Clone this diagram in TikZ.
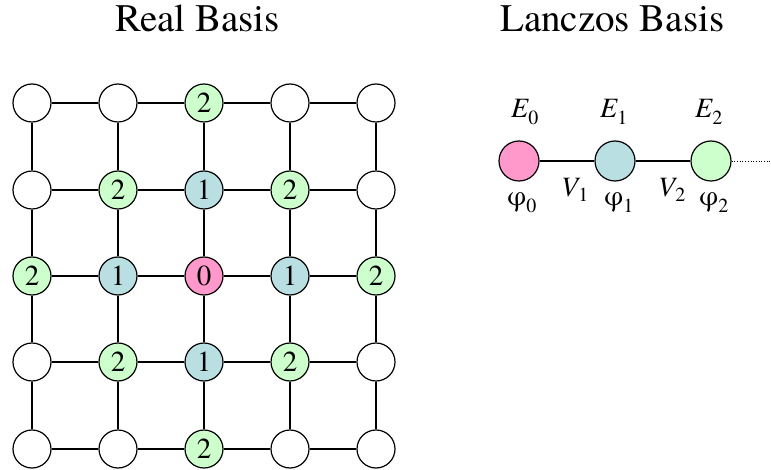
\documentclass[tikz,border=0pt]{standalone}
\usepackage{fontspec}
\setmainfont{TeX Gyre Termes}
\definecolor{pinkc}{HTML}{FF99CC}
\definecolor{bluec}{HTML}{B9DFE2}
\definecolor{greenc}{HTML}{CCFFCC}
\newcommand{\sbs}[1]{\raisebox{-7pt}{\fontsize{20}{20}\selectfont #1}}
\begin{document}
\begin{tikzpicture}[x=1pt,y=-1pt,
  site/.style={circle,draw,line width=1.2pt,minimum size=38pt,inner sep=0pt,fill=white,font=\fontsize{29}{29}\selectfont},
  lsite/.style={circle,draw,line width=1.2pt,minimum size=40pt,inner sep=0pt},
  bond/.style={line width=1.2pt},
  title/.style={font=\fontsize{39}{39}\selectfont,anchor=base west,inner sep=0pt},
  lab/.style={font=\fontsize{28}{28}\selectfont,inner sep=0pt,anchor=base west}]
\useasboundingbox (0,0) rectangle (771,470);
\node[title] (t1) at (115,32) {Real Basis};
\node[title] (t2) at (500,32) {Lanczos Basis};
% grid
\foreach \i in {0,...,4} {
  \foreach \j/\y in {0/103,1/190,2/276,3/362,4/449} {
    \pgfmathtruncatemacro{\dd}{abs(\i-2)+abs(\j-2)}
    \ifnum\dd=0
      \node[site,fill=pinkc] (n\i\j) at (32+86*\i,\y) {0};
    \else\ifnum\dd=1
      \node[site,fill=bluec] (n\i\j) at (32+86*\i,\y) {1};
    \else\ifnum\dd=2
      \node[site,fill=greenc] (n\i\j) at (32+86*\i,\y) {2};
    \else
      \node[site] (n\i\j) at (32+86*\i,\y) {};
    \fi\fi\fi
  }
}
\foreach \i in {0,...,4} {
  \foreach \j [evaluate=\j as \jn using int(\j+1)] in {0,...,3} {
    \draw[bond] (n\i\j) -- (n\i\jn);
    \draw[bond] (n\j\i) -- (n\jn\i);
  }
}
% Lanczos chain
\node[lsite,fill=pinkc] (l0) at (519,161) {};
\node[lsite,fill=bluec] (l1) at (615,161) {};
\node[lsite,fill=greenc] (l2) at (711,161) {};
\coordinate (lend) at (771,161);
\draw[bond] (l0) -- (l1);
\draw[bond] (l1) -- (l2);
\draw[line width=0.7pt,dotted] (l2) -- (lend);
\node[lab] (e0) at (511,118) {\itshape E\upshape\sbs{0}};
\node[lab] (e1) at (600,118) {\itshape E\upshape\sbs{1}};
\node[lab] (e2) at (695,118) {\itshape E\upshape\sbs{2}};
\node[lab] (p0) at (507,206) {φ\sbs{0}};
\node[lab] (p1) at (604,206) {φ\sbs{1}};
\node[lab] (p2) at (699,206) {φ\sbs{2}};
\node[lab] (v1) at (561,197) {\itshape V\upshape\raisebox{-5pt}{\fontsize{20}{20}\selectfont 1}};
\node[lab] (v2) at (658,197) {\itshape V\upshape\raisebox{-5pt}{\fontsize{20}{20}\selectfont 2}};
\end{tikzpicture}
\end{document}
